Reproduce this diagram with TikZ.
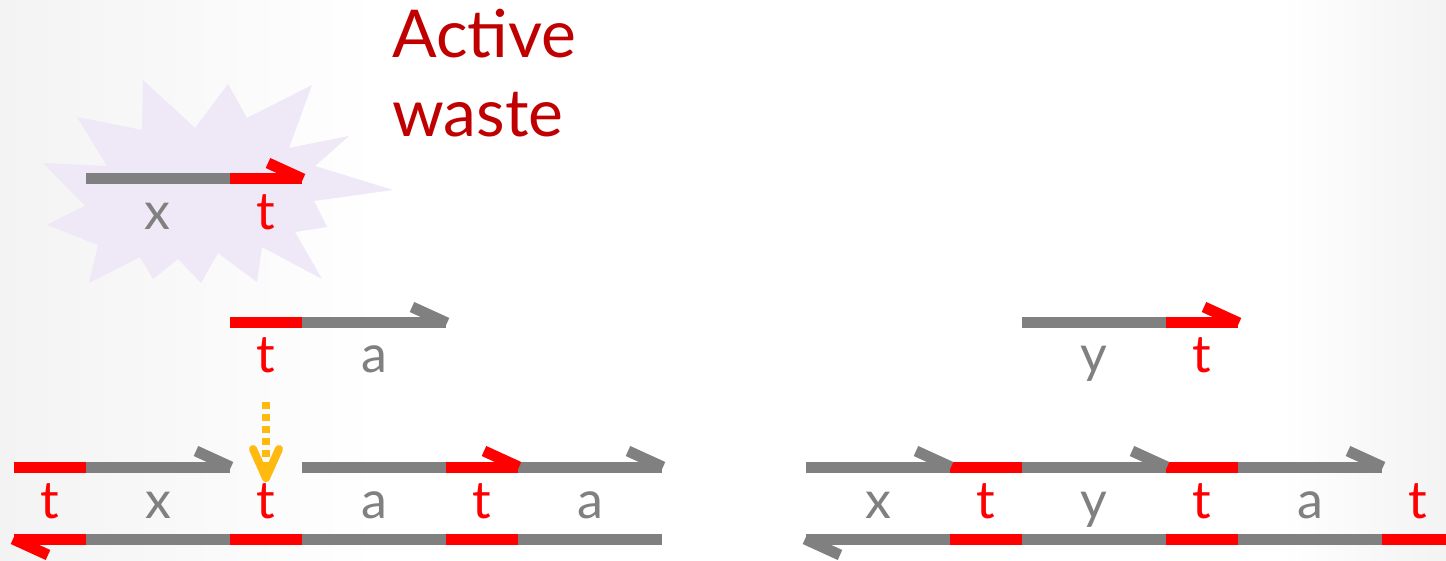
\documentclass[tikz,border=0pt]{standalone}
\usepackage{fontspec}
\setmainfont{Lato}
\definecolor{strgray}{HTML}{808080}
\definecolor{strred}{HTML}{FF0000}
\definecolor{titlered}{HTML}{C00000}
\definecolor{burst}{HTML}{EFE8F7}
\definecolor{amber}{HTML}{FFB90F}
\definecolor{bgedge}{HTML}{F3F3F3}
\newcommand\fwdhook[3]{\draw[#1] ({#2-34},{#3-16}) -- ({#2+1},{#3});}
\newcommand\revhook[3]{\draw[#1] ({#2-1},{#3}) -- ({#2+34},{#3+16});}
\begin{document}
\begin{tikzpicture}[x=1pt,y=-1pt,
  seg/.style={line width=11pt,line cap=butt},
  gseg/.style={seg,draw=strgray},
  rseg/.style={seg,draw=strred},
  lbl/.style={font=\fontsize{52}{60}\selectfont,anchor=base,inner sep=0pt},
  glbl/.style={lbl,text=strgray},
  rlbl/.style={lbl,text=strred},
  title/.style={font=\fontsize{66}{79}\selectfont,text=titlered,anchor=base west,inner sep=0pt}]
\useasboundingbox (0,0) rectangle (1446,561);
\fill[white] (0,0) rectangle (1446,561);
\shade[left color=bgedge,right color=white] (0,0) rectangle (380,561);
\shade[left color=white,right color=bgedge] (1280,0) rectangle (1446,561);
% burst
\fill[burst] (143,80) -- (195,128) -- (228,84) -- (247,118) -- (312,85) -- (289,148) -- (349,136) -- (315,166) -- (393,190) -- (314,201) -- (327,227) -- (295,232) -- (322,279) -- (262,247) -- (257,282) -- (218,253) -- (201,283) -- (178,259) -- (153,279) -- (140,257) -- (89,283) -- (98,245) -- (47,225) -- (85,206) -- (43,163) -- (107,166) -- (77,117) -- (142,130) -- cycle;
% title
\node[title] (active) at (392,58) {Active};
\node[title] (waste) at (392,137) {waste};
% waste strand
\draw[gseg] (86,179) -- (230,179);
\draw[rseg] (230,179) -- (302,179);
\fwdhook{rseg}{302}{179}
\node[glbl] (wx) at (157,230) {x};
\node[rlbl] (wt) at (266,230) {t};
% middle-left strand
\draw[rseg] (230,323) -- (302,323);
\draw[gseg] (302,323) -- (446,323);
\fwdhook{gseg}{446}{323}
\node[rlbl] (mt) at (266,373) {t};
\node[glbl] (ma) at (374,373) {a};
% bottom-left top strand
\draw[rseg] (14,467) -- (86,467);
\draw[gseg] (86,467) -- (230,467);
\draw[gseg] (302,467) -- (446,467);
\draw[rseg] (446,467) -- (518,467);
\draw[gseg] (518,467) -- (662,467);
\fwdhook{gseg}{230}{467}
\fwdhook{rseg}{518}{467}
\fwdhook{gseg}{662}{467}
% bottom-left bottom strand
\draw[rseg] (14,539) -- (86,539);
\draw[gseg] (86,539) -- (230,539);
\draw[rseg] (230,539) -- (302,539);
\draw[gseg] (302,539) -- (446,539);
\draw[rseg] (446,539) -- (518,539);
\draw[gseg] (518,539) -- (662,539);
\revhook{rseg}{14}{539}
\node[rlbl] (b1) at (50,518) {t};
\node[glbl] (b2) at (158,518) {x};
\node[rlbl] (b3) at (266,518) {t};
\node[glbl] (b4) at (374,518) {a};
\node[rlbl] (b5) at (482,518) {t};
\node[glbl] (b6) at (590,518) {a};
% yellow arrow
\coordinate (ys) at (266,402);
\coordinate (ye) at (266,472);
\coordinate (ytip) at (266,478);
\draw[amber,line width=8pt,dash pattern=on 7pt off 5pt] (ys) -- (ye);
\draw[amber,line width=8pt,line cap=round,line join=round] (253,449) -- (ytip) -- (279,449);
% right upper strand
\draw[gseg] (1022,323) -- (1166,323);
\draw[rseg] (1166,323) -- (1238,323);
\fwdhook{rseg}{1238}{323}
\node[glbl] (ry) at (1094,373) {y};
\node[rlbl] (rt) at (1202,373) {t};
% right bottom top strand
\draw[gseg] (806,467) -- (950,467);
\draw[rseg] (950,467) -- (1022,467);
\draw[gseg] (1022,467) -- (1166,467);
\draw[rseg] (1166,467) -- (1238,467);
\draw[gseg] (1238,467) -- (1382,467);
\fwdhook{gseg}{950}{467}
\fwdhook{gseg}{1166}{467}
\fwdhook{gseg}{1382}{467}
% right bottom bottom strand
\draw[gseg] (806,539) -- (950,539);
\draw[rseg] (950,539) -- (1022,539);
\draw[gseg] (1022,539) -- (1166,539);
\draw[rseg] (1166,539) -- (1238,539);
\draw[gseg] (1238,539) -- (1382,539);
\draw[rseg] (1382,539) -- (1446,539);
\revhook{gseg}{806}{539}
\node[glbl] (c1) at (878,518) {x};
\node[rlbl] (c2) at (986,518) {t};
\node[glbl] (c3) at (1094,518) {y};
\node[rlbl] (c4) at (1202,518) {t};
\node[glbl] (c5) at (1310,518) {a};
\node[rlbl] (c6) at (1418,518) {t};
\end{tikzpicture}
\end{document}
